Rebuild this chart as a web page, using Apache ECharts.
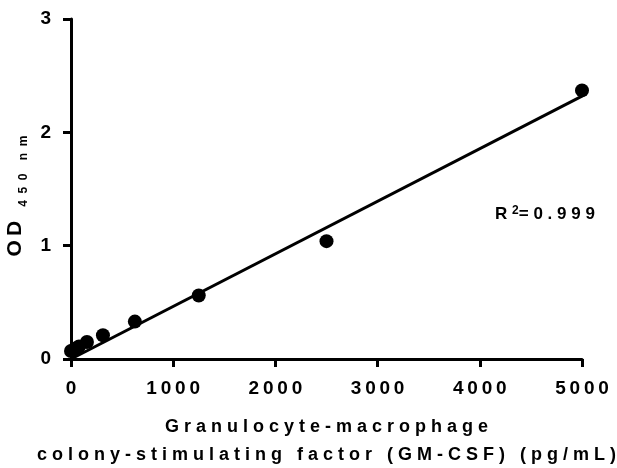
<!DOCTYPE html>
<html><head><meta charset="utf-8">
<script src="https://cdn.jsdelivr.net/npm/echarts@6/dist/echarts.min.js"></script>
<style>html,body{margin:0;padding:0;background:#fff}#c{width:617px;height:468px}</style>
</head><body><div id="c"></div>
<script>
// ---- data ----
const concentrations = [0, 39, 78, 156, 312.5, 625, 1250, 2500, 5000];
const odValues = [0.07, 0.09, 0.11, 0.15, 0.21, 0.33, 0.56, 1.04, 2.37];
const fitX = [0, 5000];
const fitY = [0.0, 2.32];
const xTicks = [0, 1000, 2000, 3000, 4000, 5000];
const yTicks = [0, 1, 2, 3];
const xTitleLines = ['Granulocyte-macrophage', 'colony-stimulating factor (GM-CSF) (pg/mL)'];
const yTitleMain = 'OD';
const yTitleSub = '450 nm';
const r2Value = '0.999';

// ---- helpers ----
const FONT = "'Liberation Sans', Arial, sans-serif";
function spaced(s, sep, wordSep) {
  return s.split(' ').map(w => Array.from(w).join(sep)).join(wordSep);
}

const chart = echarts.init(document.getElementById('c'), null, {renderer: 'canvas'});
const xName = xTitleLines.map(l => spaced(l, ' ', '   ')).join('\n');
const yName = '{a|' + spaced(yTitleMain, '\u2009', ' ') + '}{b|' + spaced(yTitleSub, '  ', '    ') + '}';

chart.setOption({
  animation: false,
  backgroundColor: '#fff',
  grid: {left: 71, right: 35, top: 19, bottom: 109, containLabel: false, outerBoundsMode: 'none'},
  xAxis: {
    type: 'value',
    min: xTicks[0], max: xTicks[xTicks.length - 1],
    interval: xTicks[1] - xTicks[0],
    splitLine: {show: false},
    axisLine: {show: true, onZero: false, lineStyle: {color: '#000', width: 3}},
    axisTick: {show: true, length: 8, lineStyle: {color: '#000', width: 3}},
    axisLabel: {
      margin: 20, color: '#000', fontFamily: FONT, fontWeight: 'bold', fontSize: 19,
      formatter: v => xTicks.includes(v) ? spaced(String(v), '\u2009', ' ') : ''
    },
    name: xName,
    nameLocation: 'middle',
    nameGap: 54,
    nameTextStyle: {color: '#000', fontFamily: FONT, fontWeight: 'bold', fontSize: 18, lineHeight: 28}
  },
  yAxis: {
    type: 'value',
    min: yTicks[0], max: yTicks[yTicks.length - 1],
    interval: yTicks[1] - yTicks[0],
    splitLine: {show: false},
    axisLine: {show: true, onZero: false, lineStyle: {color: '#000', width: 3}},
    axisTick: {show: true, length: 8, lineStyle: {color: '#000', width: 3}},
    axisLabel: {
      margin: 20, color: '#000', fontFamily: FONT, fontWeight: 'bold', fontSize: 19,
      formatter: v => yTicks.includes(v) ? String(v) : ''
    },
    name: yName,
    nameLocation: 'middle',
    nameRotate: 90,
    nameGap: 34,
    nameTextStyle: {
      color: '#000', fontFamily: FONT, fontWeight: 'bold',
      rich: {
        a: {fontSize: 21, fontWeight: 'bold', fontFamily: FONT, color: '#000', verticalAlign: 'bottom', lineHeight: 22, padding: [0, 0, 4, 0]},
        b: {fontSize: 12, fontWeight: 'bold', fontFamily: FONT, color: '#000', verticalAlign: 'bottom', padding: [0, 14, 0, 14], lineHeight: 10}
      }
    }
  },
  graphic: [{
    type: 'text',
    left: 495, top: 205,
    style: {
      text: '{r|R}{s|\u2009\u20092}{t|' + spaced('=' + r2Value, ' ', ' ') + '}',
      rich: {
        r: {fontSize: 17, fontWeight: 'bold', fontFamily: FONT, fill: '#000', verticalAlign: 'bottom'},
        s: {fontSize: 12, fontWeight: 'bold', fontFamily: FONT, fill: '#000', verticalAlign: 'bottom', padding: [0, 0, 6, 0]},
        t: {fontSize: 17, fontWeight: 'bold', fontFamily: FONT, fill: '#000', verticalAlign: 'bottom'}
      }
    }
  }],
  series: [
    {
      type: 'line',
      data: fitX.map((x, i) => [x, fitY[i]]),
      symbol: 'none',
      lineStyle: {color: '#000', width: 3},
      z: 2
    },
    {
      type: 'scatter',
      data: concentrations.map((x, i) => [x, odValues[i]]),
      symbol: 'circle',
      symbolSize: 14,
      itemStyle: {color: '#000', opacity: 1},
      z: 3
    }
  ]
});
</script>
</body></html>
